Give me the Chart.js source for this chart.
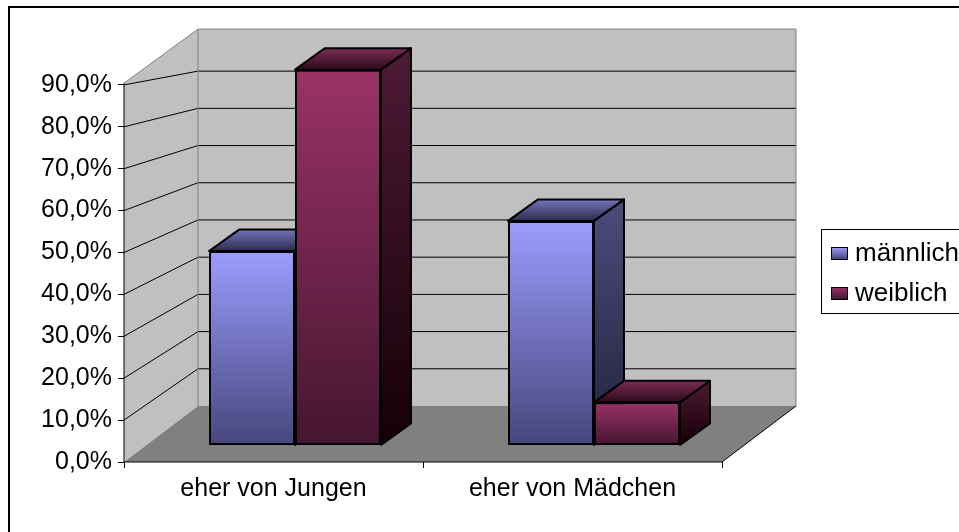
<!DOCTYPE html>
<html>
<head>
<meta charset="utf-8">
<script src="https://cdn.jsdelivr.net/npm/chart.js@4.4.0/dist/chart.umd.min.js"></script>
<style>
  html, body { margin: 0; padding: 0; background: #fff; }
  #wrap { width: 959px; height: 532px; }
</style>
</head>
<body>
<div id="wrap"><canvas id="chart" width="959" height="532"></canvas></div>
<script>
// data
const categories = ['eher von Jungen', 'eher von Mädchen'];
const seriesNames = ['männlich', 'weiblich'];
const maleValues = [46.4, 53.6];
const femaleValues = [89.7, 10.3];
const yTickValues = [0, 10, 20, 30, 40, 50, 60, 70, 80, 90];

// colours: [front top, front bottom, side top, side bottom, roof back, roof front]
const maleShades = ['#9c9cff', '#46467c', '#4c4c7c', '#22223c', '#7474bc', '#2c2c4c'];
const femaleShades = ['#9a3366', '#451530', '#4e1a34', '#140008', '#7c2c58', '#2c0a1a'];

// 3d look
const floorDepth = { dx: 74, dy: -56 };   // front axis -> back wall
const barShift = { dx: 21.5, dy: -16.5 }; // bars stand a bit into the floor
const barDepth = { dx: 30, dy: -21.5 };
const backScale = 0.888;                  // back wall is a bit smaller

const fontFamily = '"Liberation Sans", Arial, sans-serif';

function frontFill(shades) {
    return function (context) {
        const chart = context.chart;
        if (!chart.chartArea || !context.parsed) return shades[0];
        const ys = chart.scales.y;
        const g = chart.ctx.createLinearGradient(0, ys.getPixelForValue(context.parsed.y), 0, ys.getPixelForValue(0));
        g.addColorStop(0, shades[0]);
        g.addColorStop(1, shades[1]);
        return g;
    };
}

function poly(ctx, pts) {
    ctx.beginPath();
    ctx.moveTo(pts[0][0], pts[0][1]);
    for (let i = 1; i < pts.length; i++) ctx.lineTo(pts[i][0], pts[i][1]);
    ctx.closePath();
}

function drawSides(ctx, bar, shades) {
    const p = bar.getProps(['x', 'y', 'base', 'width'], true);
    const l = p.x - p.width / 2, r = p.x + p.width / 2;
    const t = p.y, b = p.base;
    const dx = barDepth.dx, dy = barDepth.dy;
    ctx.save();
    ctx.lineWidth = 2;
    ctx.lineJoin = 'round';
    ctx.strokeStyle = '#000';

    let g = ctx.createLinearGradient(0, t + dy, 0, b);
    g.addColorStop(0, shades[2]);
    g.addColorStop(1, shades[3]);
    ctx.fillStyle = g;
    poly(ctx, [[r, t], [r + dx, t + dy], [r + dx, b + dy], [r, b]]);
    ctx.fill();
    ctx.stroke();

    g = ctx.createLinearGradient(0, t + dy, 0, t);
    g.addColorStop(0, shades[4]);
    g.addColorStop(1, shades[5]);
    ctx.fillStyle = g;
    poly(ctx, [[l, t], [l + dx, t + dy], [r + dx, t + dy], [r, t]]);
    ctx.fill();
    ctx.stroke();
    ctx.restore();
}

const scenePlugin = {
    id: 'scene',
    beforeDatasetsDraw(chart) {
        const ctx = chart.ctx;
        const ys = chart.scales.y;
        const area = chart.chartArea;
        const fy = v => ys.getPixelForValue(v);
        const x0 = area.left, x1 = area.right;
        const bx0 = x0 + floorDepth.dx, bx1 = x1 + floorDepth.dx;
        const by0 = fy(0) + floorDepth.dy;
        const by = v => by0 - (fy(0) - fy(v)) * backScale;

        ctx.save();
        // back wall
        ctx.fillStyle = '#c0c0c0';
        ctx.fillRect(bx0, by(101.3), bx1 - bx0, by0 - by(101.3));
        // side wall
        poly(ctx, [[x0, fy(0)], [x0, fy(90.4)], [bx0, by(101.3)], [bx0, by0]]);
        ctx.fill();
        // floor
        ctx.fillStyle = '#808080';
        poly(ctx, [[x0, fy(0)], [bx0, by0], [bx1, by0], [x1, fy(0)]]);
        ctx.fill();

        // grid lines
        ctx.strokeStyle = '#000';
        ctx.lineWidth = 1;
        for (const v of yTickValues) {
            if (v === 0) continue;
            ctx.beginPath();
            ctx.moveTo(x0, fy(v));
            ctx.lineTo(bx0, by(v));
            ctx.lineTo(bx1, by(v));
            ctx.stroke();
        }

        // wall outlines
        ctx.strokeStyle = '#808080';
        ctx.beginPath();
        ctx.moveTo(x0, fy(90.4));
        ctx.lineTo(bx0, by(101.3));
        ctx.lineTo(bx1, by(101.3));
        ctx.lineTo(bx1, by0);
        ctx.moveTo(bx0, by(101.3));
        ctx.lineTo(bx0, by0);
        ctx.stroke();

        // floor edges + value axis
        ctx.strokeStyle = '#000';
        ctx.beginPath();
        ctx.moveTo(x0, fy(90.4));
        ctx.lineTo(x0, fy(0));
        ctx.lineTo(x1, fy(0));
        ctx.lineTo(bx1, by0);
        ctx.stroke();
        ctx.restore();

        ctx.save();
        ctx.translate(barShift.dx, barShift.dy);
    },
    afterDatasetsDraw(chart) {
        const ctx = chart.ctx;
        // depth faces, left to right, so the later bar covers the earlier one
        const male = chart.getDatasetMeta(0).data;
        const female = chart.getDatasetMeta(1).data;
        for (let i = 0; i < categories.length; i++) {
            drawSides(ctx, male[i], maleShades);
            female[i].draw(ctx);
            drawSides(ctx, female[i], femaleShades);
        }
        ctx.restore();

        // legend
        ctx.save();
        ctx.strokeStyle = '#000';
        ctx.lineWidth = 1;
        ctx.strokeRect(821.5, 229.5, 200, 84);
        ctx.font = '26px ' + fontFamily;
        ctx.textBaseline = 'middle';
        chart.data.datasets.forEach((ds, i) => {
            const cy = 253 + i * 40;
            const shades = i === 0 ? maleShades : femaleShades;
            const g = ctx.createLinearGradient(0, cy - 6, 0, cy + 6);
            g.addColorStop(0, shades[0]);
            g.addColorStop(1, shades[1]);
            ctx.fillStyle = g;
            ctx.fillRect(831, cy - 6, 16, 12);
            ctx.strokeRect(831.5, cy - 5.5, 16, 12);
            ctx.fillStyle = '#000';
            ctx.fillText(ds.label, 855, cy + 1);
        });

        // outer frame
        ctx.lineWidth = 2;
        ctx.strokeRect(9, 7, 1000, 600);
        ctx.restore();
    }
};

const ctx = document.getElementById('chart').getContext('2d');
new Chart(ctx, {
    type: 'bar',
    data: {
        labels: categories,
        datasets: [{
            label: seriesNames[0],
            data: maleValues,
            backgroundColor: frontFill(maleShades),
            borderColor: '#000',
            borderWidth: 2,
            borderSkipped: false,
            clip: false
        }, {
            label: seriesNames[1],
            data: femaleValues,
            backgroundColor: frontFill(femaleShades),
            borderColor: '#000',
            borderWidth: 2,
            borderSkipped: false,
            clip: false
        }]
    },
    options: {
        responsive: false,
        animation: false,
        devicePixelRatio: 1,
        layout: { padding: { left: 0, top: 43, right: 237, bottom: 0 } },
        datasets: { bar: { categoryPercentage: 0.575, barPercentage: 1 } },
        scales: {
            x: {
                grid: { display: true, drawOnChartArea: false, tickLength: 6, color: '#000', offset: true },
                border: { display: false },
                ticks: { color: '#000', padding: 6, font: { family: fontFamily, size: 25 } },
                afterFit: scale => { scale.height = 70; }
            },
            y: {
                min: 0,
                max: 100,
                grid: { display: true, drawOnChartArea: false, tickLength: 6, color: '#000' },
                border: { display: false },
                ticks: {
                    stepSize: 10,
                    color: '#000',
                    padding: 6,
                    font: { family: fontFamily, size: 25 },
                    callback: v => v.toFixed(1).replace('.', ',') + '%'
                },
                afterBuildTicks: scale => { scale.ticks = scale.ticks.filter(t => yTickValues.includes(t.value)); },
                afterFit: scale => { scale.width = 124; }
            }
        },
        plugins: {
            legend: { display: false },
            tooltip: { enabled: false }
        }
    },
    plugins: [scenePlugin]
});
</script>
</body>
</html>
